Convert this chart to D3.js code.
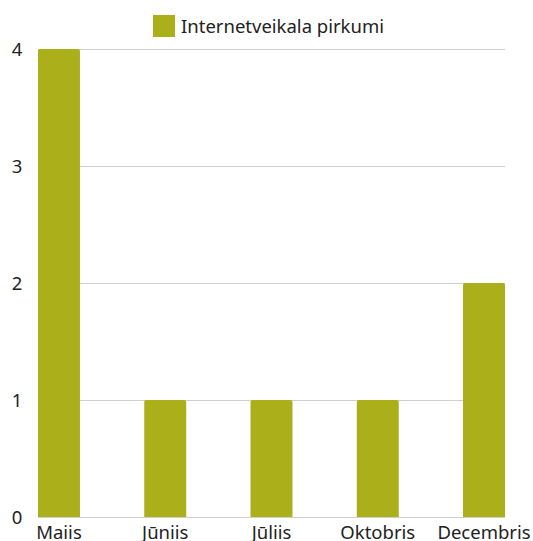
<!DOCTYPE html>
<html><head><meta charset="utf-8">
<script src="https://cdn.jsdelivr.net/npm/d3@7"></script>
<style>body{margin:0;background:#fff}svg{display:block}</style>
</head><body>
<svg id="c" width="533" height="541"></svg>
<script>
const categories = ["Maiis", "Jūniis", "Jūliis", "Oktobris", "Decembris"];
const values = [4, 1, 1, 1, 2];
const yTicks = [0, 1, 2, 3, 4];
const seriesName = "Internetveikala pirkumi";

(function () {
const color = "#ABAF1A";
const font = "'Noto Sans', sans-serif";
const fs = 18.5;
const svg = d3.select("#c");
const mLeft = 38, mRight = 505, mTop = 49, mBottom = 517;

const x = d3.scaleBand().domain(categories).range([mLeft, mRight]).paddingInner(0.605).paddingOuter(0);
const y = d3.scaleLinear().domain([0, 4]).range([mBottom, mTop]);

svg.append("g").selectAll("line").data(yTicks).join("line")
  .attr("x1", mLeft).attr("x2", mRight)
  .attr("y1", d => y(d) + 0.5).attr("y2", d => y(d) + 0.5)
  .attr("stroke", "#cfcfcf").attr("stroke-width", 1);

svg.append("g").selectAll("text").data(yTicks).join("text")
  .attr("x", 17).attr("y", d => y(d)).attr("dy", "0.36em")
  .attr("text-anchor", "middle")
  .attr("font-family", font).attr("font-size", fs).attr("fill", "#222")
  .text(d => d);

const r = 2;
svg.append("g").selectAll("path").data(values).join("path")
  .attr("fill", color)
  .attr("d", (d, i) => {
    const x0 = x(categories[i]), w = x.bandwidth(), y0 = y(d), y1 = y(0);
    return `M${x0},${y1}V${y0 + r}Q${x0},${y0} ${x0 + r},${y0}H${x0 + w - r}Q${x0 + w},${y0} ${x0 + w},${y0 + r}V${y1}Z`;
  });

svg.append("g").selectAll("text").data(categories).join("text")
  .attr("x", d => x(d) + x.bandwidth() / 2).attr("y", 539)
  .attr("text-anchor", "middle")
  .attr("font-family", font).attr("font-size", fs).attr("fill", "#222")
  .text(d => d);

const lg = svg.append("g");
lg.append("rect").attr("x", 153).attr("y", 15).attr("width", 22).attr("height", 22).attr("fill", color);
lg.append("text").attr("x", 181).attr("y", 26).attr("dy", "0.36em")
  .attr("font-family", font).attr("font-size", fs).attr("fill", "#222")
  .text(seriesName);
})();
</script>
</body></html>
